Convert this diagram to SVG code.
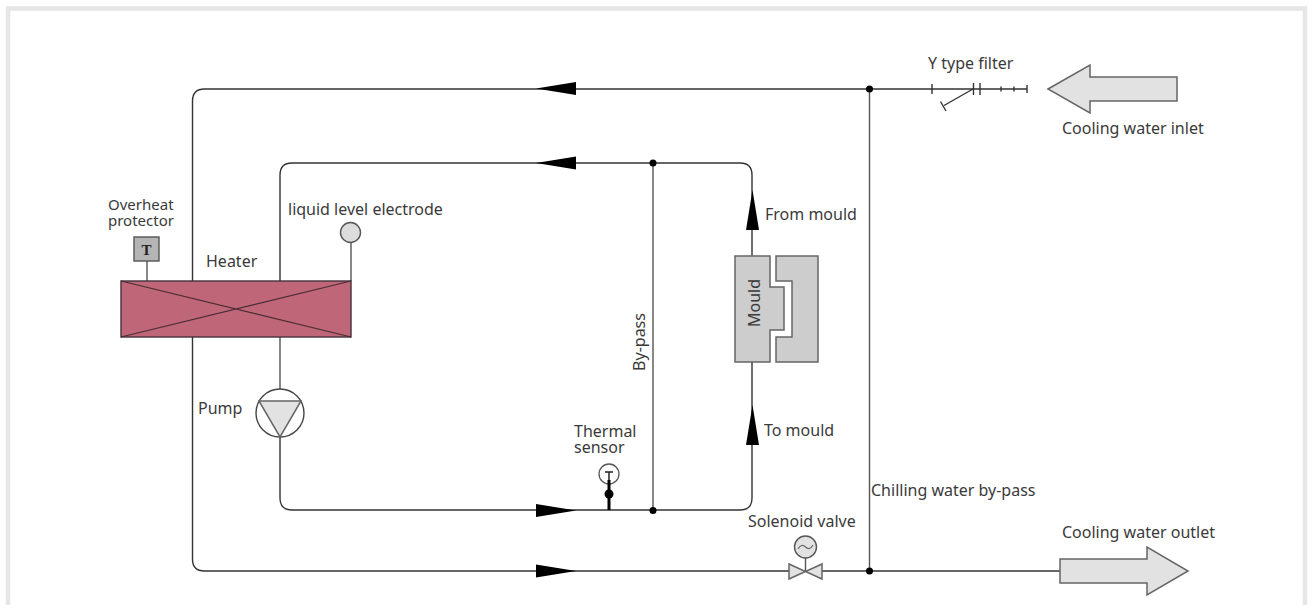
<svg xmlns="http://www.w3.org/2000/svg" width="1312" height="605" viewBox="0 0 1312 605">
<style>
.l{fill:none;stroke:#555;stroke-width:1.4}
.d{fill:none;stroke:#333;stroke-width:1.4}
.s{fill:#e2e2e2;stroke:#666;stroke-width:1.5}
.m{fill:#cdcdcd;stroke:#666;stroke-width:1.5}
.a{fill:#000;stroke:none}
.j{fill:#000;stroke:none}
text{font-family:"Noto Sans","Liberation Sans",sans-serif;font-size:16px;fill:#3a3a3a}
text.t{font-family:"Liberation Serif",serif;font-weight:bold;font-size:15px;text-anchor:middle;fill:#222}
text.n{font-size:15px}
</style>
<rect width="1312" height="605" fill="#fff"/>
<path d="M8 605V8.500H1305V605" fill="none" stroke="#e6e6e6" stroke-width="4.500"/>
<g id="connectors">
<path class="d" d="M192.500 281V101Q192.500 89 204.500 89H1027"/>
<path class="l" d="M869.500 89V571"/>
<path class="d" d="M280 281V175Q280 163 292 163H740Q752 163 752 175V256"/>
<path class="l" d="M653 163V510"/>
<path class="d" d="M752 362V498Q752 510 740 510H292Q280 510 280 498V437"/>
<path class="d" d="M192.500 337V559Q192.500 571 204.500 571H1060"/>
<path class="l" d="M280 337V389"/>
<path class="l" d="M147 261V281"/>
<path class="l" d="M351 242V281"/>
<path class="a" d="M536 88.500L576 82V95Z"/>
<path class="a" d="M536 163L576 156.500V169.500Z"/>
<path class="a" d="M576 510.500L536 504V517Z"/>
<path class="a" d="M576 571L536 564.500V577.500Z"/>
<path class="a" d="M752.500 190L746 230H759Z"/>
<path class="a" d="M752.500 405L746 445H759Z"/>
<circle class="j" cx="869.500" cy="89" r="3.500"/>
<circle class="j" cx="653" cy="163" r="3.500"/>
<circle class="j" cx="653" cy="510.500" r="3.500"/>
<circle class="j" cx="869.500" cy="571" r="3.500"/>
</g>
<g id="y-filter">
<path class="d" d="M932 84V94M973.500 83V95M980 83V95M1001 86.500V91.500M1014 86.500V91.500M1027 85V93M973 89L944 105.500M940.500 101.500L946 111"/>
<text x="928" y="69">Y type filter</text>
</g>
<g id="cooling-inlet">
<path class="s" d="M1048 89L1090 65V77H1177V101H1090V113Z"/>
<text x="1062" y="134">Cooling water inlet</text>
</g>
<g id="cooling-outlet">
<path class="s" d="M1060 559H1147V547L1188 571L1147 595V583H1060Z"/>
<text x="1062" y="538">Cooling water outlet</text>
</g>
<g id="overheat-protector">
<rect x="134" y="237" width="25" height="24" fill="#b5b5b5" stroke="#555" stroke-width="1.400"/>
<text class="t" x="146.500" y="255">T</text>
<text class="n" x="108" y="210">Overheat<tspan x="108" dy="16">protector</tspan></text>
</g>
<g id="heater">
<rect x="121" y="281" width="230" height="56" fill="#bf6678" stroke="#43333a" stroke-width="1.400"/>
<path d="M121 281L351 337M121 337L351 281" fill="none" stroke="#4a2d35" stroke-width="1.200"/>
<text x="206" y="267">Heater</text>
</g>
<g id="level-electrode">
<circle cx="350.500" cy="232.500" r="10" fill="#dcdcdc" stroke="#555" stroke-width="1.400"/>
<text x="288" y="215">liquid level electrode</text>
</g>
<g id="pump">
<circle cx="280" cy="413" r="24" fill="#fff" stroke="#444" stroke-width="1.400"/>
<path class="s" d="M259 401H301L280 437Z"/>
<text x="198" y="414">Pump</text>
</g>
<g id="mould">
<path class="m" d="M735 256H770V287H784V330H770V362H735Z"/>
<path class="m" d="M776 256H818V362H776V337H792V281H776Z"/>
<text transform="translate(760 303) rotate(-90)" text-anchor="middle">Mould</text>
<text x="765" y="220">From mould</text>
<text x="764" y="436">To mould</text>
</g>
<g id="bypass">
<text transform="translate(645 342) rotate(-90)" text-anchor="middle">By-pass</text>
</g>
<g id="thermal-sensor">
<circle cx="609" cy="474" r="10" fill="#fff" stroke="#555" stroke-width="1.300"/>
<path d="M605 472H613M609 472V480" fill="none" stroke="#222" stroke-width="1.500"/>
<path d="M609 480V510" fill="none" stroke="#000" stroke-width="3"/>
<circle class="j" cx="609" cy="494" r="4.500"/>
<text x="574" y="437">Thermal<tspan x="574" dy="16">sensor</tspan></text>
</g>
<g id="solenoid-valve">
<path class="l" d="M805.500 557V571"/>
<circle cx="805.500" cy="547" r="11" fill="#e2e2e2" stroke="#555" stroke-width="1.400"/>
<path d="M798 549Q801.500 543 805.500 547T813 545" fill="none" stroke="#666" stroke-width="1.200"/>
<path class="s" d="M789 564V579L805.500 571.500ZM822 564V579L805.500 571.500Z"/>
<text x="748" y="527">Solenoid valve</text>
</g>
<text x="871" y="496">Chilling water by-pass</text>
</svg>
